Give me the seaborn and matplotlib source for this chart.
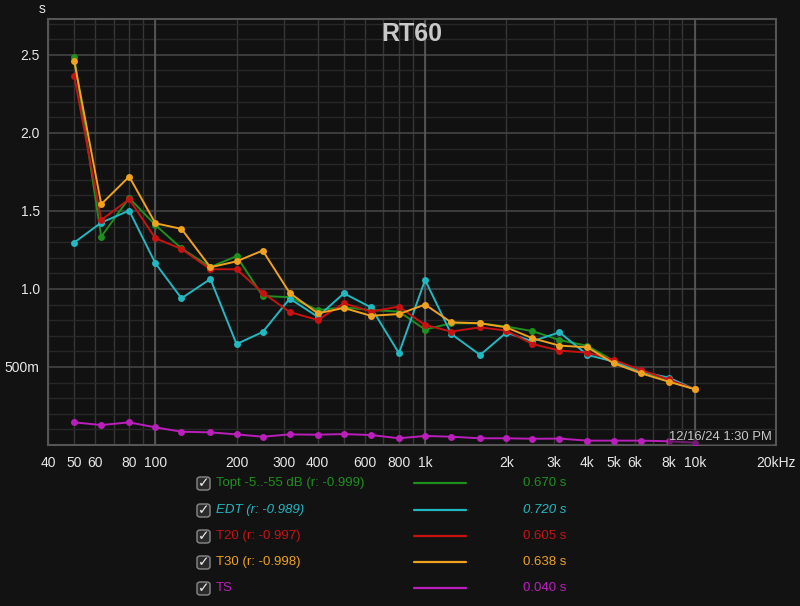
import numpy as np
import matplotlib.pyplot as plt
import matplotlib.ticker as ticker
from matplotlib.lines import Line2D
from matplotlib.patches import FancyBboxPatch
import pandas as pd
import seaborn as sns

# 1/3 octave centre frequencies (Hz)
freqs = [50, 63, 80, 100, 125, 160, 200, 250, 315, 400, 500, 630, 800,
         1000, 1250, 1600, 2000, 2500, 3150, 4000, 5000, 6300, 8000, 10000]

# decay times in seconds
topt = [2.489, 1.335, 1.583, 1.410, 1.260, 1.140, 1.210, 0.955, 0.947, 0.865, 0.882, 0.865,
        0.855, 0.740, 0.780, 0.780, 0.759, 0.730, 0.673, 0.635, 0.540, 0.470, 0.420, 0.357]
edt = [1.297, 1.425, 1.502, 1.165, 0.940, 1.064, 0.647, 0.724, 0.938, 0.822, 0.972, 0.882,
       0.588, 1.058, 0.712, 0.577, 0.720, 0.665, 0.722, 0.577, 0.535, 0.470, 0.432, 0.357]
t20 = [2.365, 1.442, 1.575, 1.325, 1.256, 1.126, 1.126, 0.976, 0.852, 0.801, 0.908, 0.855,
       0.887, 0.769, 0.727, 0.754, 0.733, 0.647, 0.605, 0.592, 0.545, 0.481, 0.420, 0.357]
t30 = [2.463, 1.543, 1.720, 1.421, 1.385, 1.139, 1.177, 1.246, 0.974, 0.844, 0.878, 0.828,
       0.839, 0.900, 0.786, 0.780, 0.754, 0.684, 0.637, 0.626, 0.524, 0.460, 0.406, 0.357]
ts = [0.145, 0.128, 0.145, 0.113, 0.085, 0.081, 0.068, 0.053, 0.068, 0.066, 0.070, 0.064,
      0.043, 0.058, 0.053, 0.043, 0.043, 0.040, 0.041, 0.028, 0.028, 0.028, 0.024, 0.015]

series_names = ['Topt', 'EDT', 'T20', 'T30', 'TS']
series_colors = ['#1f8f1f', '#22b8c2', '#c81212', '#eea21f', '#bb1fbb']
legend_labels = ['Topt -5..-55 dB (r: -0.999)', 'EDT (r: -0.989)', 'T20 (r: -0.997)',
                 'T30 (r: -0.998)', 'TS']
legend_values = ['0.670 s', '0.720 s', '0.605 s', '0.638 s', '0.040 s']

x_tick_vals = [40, 50, 60, 80, 100, 200, 300, 400, 600, 800, 1000, 2000, 3000,
               4000, 5000, 6000, 8000, 10000, 20000]
x_tick_labels = ['40', '50', '60', '80', '100', '200', '300', '400', '600', '800', '1k',
                 '2k', '3k', '4k', '5k', '6k', '8k', '10k', '20kHz']

# long table for seaborn
rows = []
for name, vals in zip(series_names, [topt, edt, t20, t30, ts]):
    for f, v in zip(freqs, vals):
        rows.append({'freq': f, 'rt': v, 'series': name})
df = pd.DataFrame(rows)

sns.set_theme(style='dark')
plt.rcParams['font.family'] = ['Liberation Sans', 'DejaVu Sans']

bg = '#121212'
fig = plt.figure(figsize=(8, 6.06), dpi=100, facecolor=bg)
ax = fig.add_axes([48 / 800, 1 - 445 / 606, 728 / 800, 426 / 606])
ax.set_facecolor('#111111')

ax.set_xscale('log')
ax.set_xlim(40, 20000)
ax.set_ylim(0, 2.73)

# grid
ax.xaxis.set_minor_locator(ticker.LogLocator(base=10, subs=np.arange(1, 10)))
ax.xaxis.set_minor_formatter(ticker.NullFormatter())
ax.yaxis.set_major_locator(ticker.MultipleLocator(0.5))
ax.yaxis.set_minor_locator(ticker.MultipleLocator(0.1))
ax.grid(which='minor', axis='x', color='#363636', linewidth=1.0)
ax.grid(which='major', axis='x', color='#363636', linewidth=1.0)
ax.grid(which='minor', axis='y', color='#282828', linewidth=1.0)
ax.grid(which='major', axis='y', color='#404040', linewidth=1.3)
for dec in [100, 1000, 10000]:
    ax.axvline(dec, color='#5a5a5a', linewidth=1.2, zorder=1)

sns.lineplot(data=df, x='freq', y='rt', hue='series', hue_order=series_names,
             palette=series_colors, marker='o', markersize=5, markeredgewidth=0,
             linewidth=1.4, legend=False, ax=ax, zorder=3)

ax.set_xticks(x_tick_vals)
ax.set_xticklabels(x_tick_labels)
ax.yaxis.set_major_formatter(ticker.FuncFormatter(
    lambda v, p: '' if v < 0.01 else ('500m' if abs(v - 0.5) < 0.01 else '%.1f' % v)))
ax.tick_params(axis='both', which='both', length=0, colors='#e6e6e6', labelsize=10)
ax.tick_params(axis='x', pad=8)
ax.tick_params(axis='y', pad=6)
ax.set_xlabel('')
ax.set_ylabel('')
for sp in ax.spines.values():
    sp.set_color('#555555')
    sp.set_linewidth(1.5)

ax.set_title('RT60', color='#c8c8c8', fontsize=18, fontweight='bold', y=0.945, va='center')
fig.text(42 / 800, 1 - 9 / 606, 's', color='#e6e6e6', fontsize=10, ha='center', va='center')
ax.text(0.995, 0.004, '12/16/24 1:30 PM', transform=ax.transAxes, ha='right', va='bottom',
        color='#c8c8c8', fontsize=9.4, zorder=5,
        bbox=dict(facecolor='#161616', alpha=0.45, edgecolor='none', pad=1.0))

# legend rows under the chart
row_y = [483, 510, 536, 562, 588]
for i, (lab, val, col) in enumerate(zip(legend_labels, legend_values, series_colors)):
    yf = 1 - row_y[i] / 606
    style = 'italic' if series_names[i] == 'EDT' else 'normal'
    box = FancyBboxPatch((197 / 800, yf - 7 / 606), 13 / 800, 13 / 606,
                         boxstyle='round,pad=0,rounding_size=0.004',
                         transform=fig.transFigure, facecolor='#2a2a2a',
                         edgecolor='#8a8a8a', linewidth=1.0)
    fig.patches.append(box)
    fig.text(203.5 / 800, yf, '\u2713', color='#f0f0f0', fontsize=10, ha='center', va='center',
             family=['DejaVu Sans'], fontweight='bold')
    fig.text(216 / 800, yf, lab, color=col, fontsize=9.5, ha='left', va='center', style=style)
    fig.lines.append(Line2D([414 / 800, 466 / 800], [yf, yf], transform=fig.transFigure,
                            color=col, linewidth=1.6))
    fig.text(566 / 800, yf, val, color=col, fontsize=9.5, ha='right', va='center', style=style)

plt.savefig('out.png', dpi=100, facecolor=bg)
